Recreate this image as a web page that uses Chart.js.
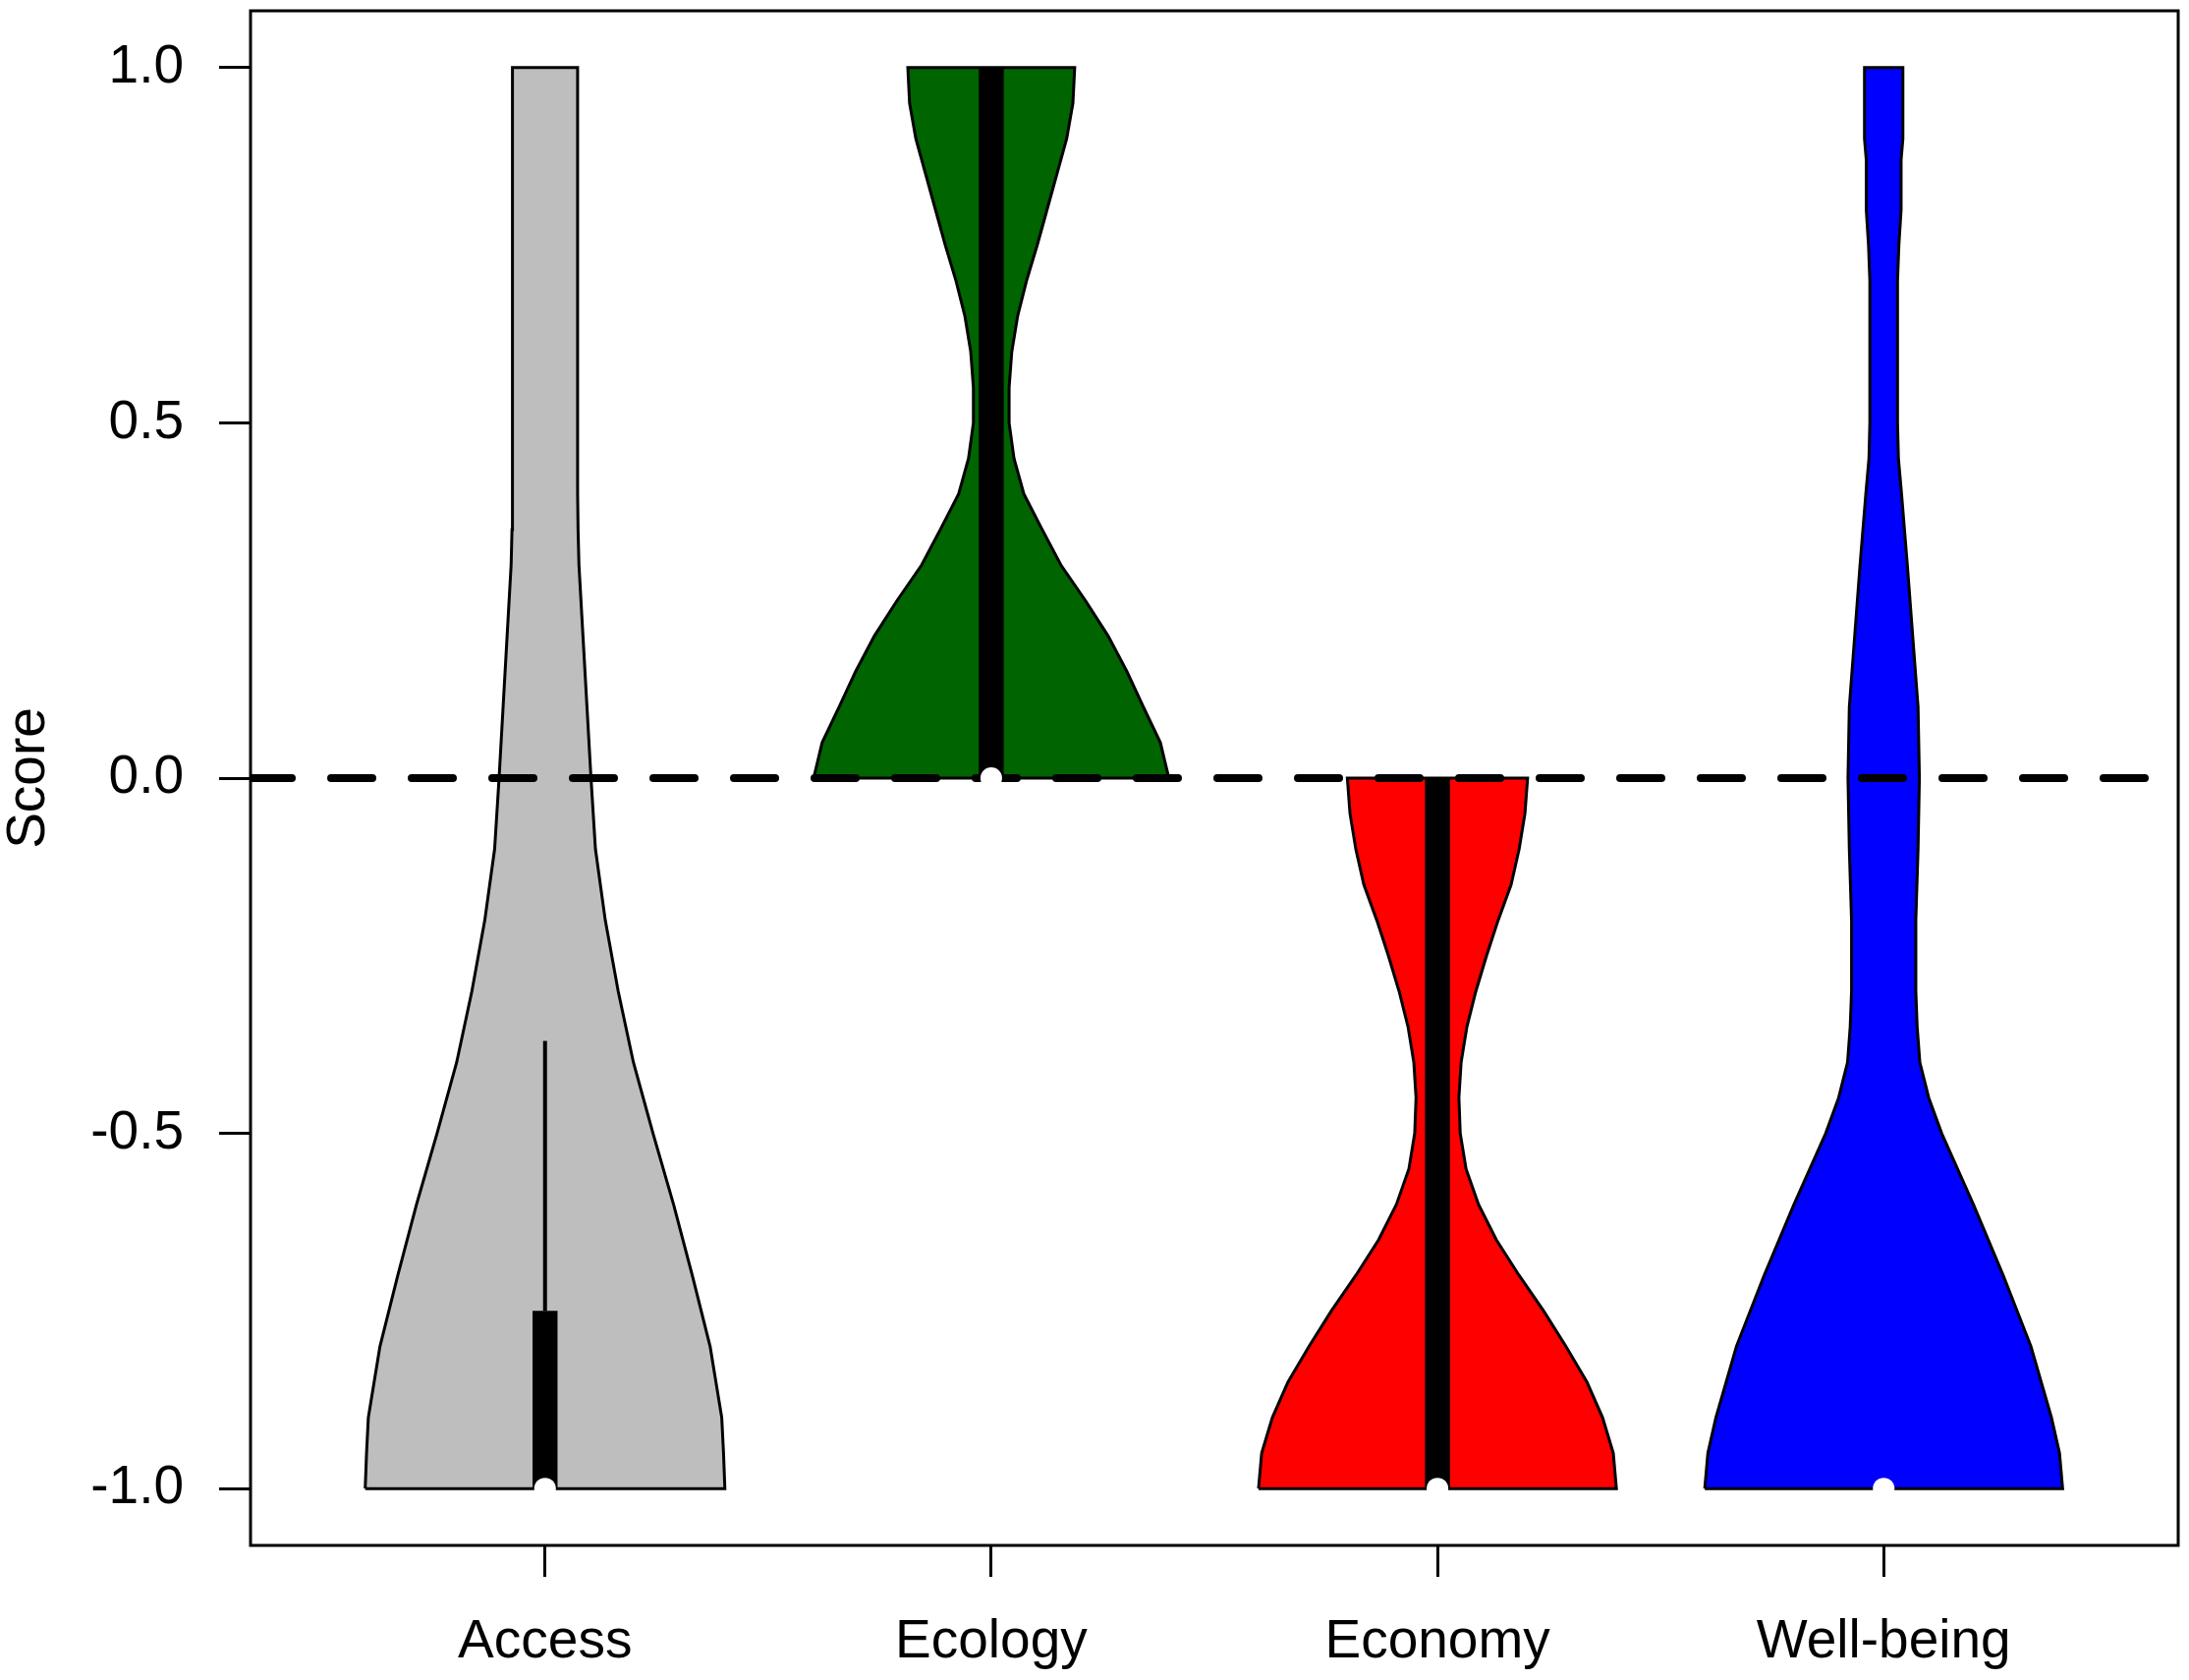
<!DOCTYPE html>
<html><head><meta charset="utf-8">
<script src="https://cdn.jsdelivr.net/npm/chart.js@4.4.1/dist/chart.umd.min.js"></script>
<style>html,body{margin:0;padding:0;background:#fff;} canvas{display:block;}</style>
</head><body>
<canvas id="c" width="2228" height="1710"></canvas>
<script>
// ---- data ----
const categories = ['Access', 'Ecology', 'Economy', 'Well-being'];
const yTicks = [-1, -0.5, 0, 0.5, 1];
const yTickLabels = ['-1.0', '-0.5', '0.0', '0.5', '1.0'];
const fillColors = ['#BEBEBE', '#006400', '#FF0000', '#0000FF'];

// violin density profiles: score levels and half-widths (in x-axis units)
const accessY = [-1, -0.95, -0.9, -0.8, -0.7, -0.6, -0.5, -0.4, -0.3, -0.2, -0.1, 0, 0.1, 0.2, 0.3, 0.35, 0.4, 1];
const accessW = [0.403, 0.400, 0.396, 0.370, 0.330, 0.288, 0.242, 0.198, 0.164, 0.135, 0.113, 0.103, 0.094, 0.085, 0.076, 0.074, 0.073, 0.073];

const ecologyY = [0, 0.05, 0.1, 0.15, 0.2, 0.25, 0.3, 0.35, 0.4, 0.45, 0.5, 0.55, 0.6, 0.65, 0.7, 0.75, 0.8, 0.85, 0.9, 0.95, 1];
const ecologyW = [0.398, 0.379, 0.341, 0.304, 0.262, 0.211, 0.156, 0.114, 0.073, 0.051, 0.040, 0.040, 0.046, 0.059, 0.079, 0.103, 0.125, 0.147, 0.169, 0.183, 0.187];

const economyY = [-1, -0.95, -0.9, -0.85, -0.8, -0.75, -0.7, -0.65, -0.6, -0.55, -0.5, -0.45, -0.4, -0.35, -0.3, -0.25, -0.2, -0.15, -0.1, -0.05, 0];
const economyW = [0.401, 0.394, 0.370, 0.335, 0.288, 0.238, 0.183, 0.132, 0.092, 0.064, 0.051, 0.048, 0.053, 0.066, 0.086, 0.110, 0.136, 0.165, 0.183, 0.196, 0.202];

const wellbeingY = [-1, -0.95, -0.9, -0.8, -0.7, -0.6, -0.5, -0.45, -0.4, -0.35, -0.3, -0.2, -0.1, 0, 0.1, 0.2, 0.3, 0.4, 0.45, 0.5, 0.7, 0.75, 0.8, 0.87, 0.9, 1];
const wellbeingW = [0.401, 0.394, 0.376, 0.330, 0.268, 0.201, 0.130, 0.101, 0.081, 0.075, 0.072, 0.072, 0.077, 0.080, 0.077, 0.065, 0.053, 0.040, 0.033, 0.031, 0.031, 0.034, 0.039, 0.039, 0.043, 0.043];

// box-plot summaries
const q1 = [-1, 0, -1, -1];
const q3 = [-0.75, 1, 0, -1];
const whiskerHigh = [-0.37, 1, 0, -1];
const medians = [-1, 0, -1, -1];
const referenceLine = 0;

// ---- build datasets ----
const profiles = [
  { y: accessY, w: accessW },
  { y: ecologyY, w: ecologyW },
  { y: economyY, w: economyW },
  { y: wellbeingY, w: wellbeingW }
];
const X_MIN = 0.34, X_MAX = 4.66, Y_MIN = -1.08, Y_MAX = 1.08;
const BOX_HALF = 0.028;

function violinPoints(i) {
  const c = i + 1, p = profiles[i], pts = [];
  for (let k = 0; k < p.y.length; k++) pts.push({ x: c - p.w[k], y: p.y[k] });
  for (let k = p.y.length - 1; k >= 0; k--) pts.push({ x: c + p.w[k], y: p.y[k] });
  pts.push({ x: pts[0].x, y: pts[0].y });
  return pts;
}

const datasets = [];
categories.forEach((cat, i) => {
  datasets.push({
    label: cat, data: violinPoints(i), showLine: true, fill: 'shape',
    backgroundColor: fillColors[i], borderColor: '#000', borderWidth: 3,
    pointRadius: 0, tension: 0, order: 5
  });
  const c = i + 1;
  if (q3[i] > q1[i]) {
    datasets.push({
      label: cat + ' box',
      data: [{ x: c - BOX_HALF, y: q1[i] }, { x: c + BOX_HALF, y: q1[i] }, { x: c + BOX_HALF, y: q3[i] }, { x: c - BOX_HALF, y: q3[i] }, { x: c - BOX_HALF, y: q1[i] }],
      showLine: true, fill: 'shape', backgroundColor: '#000', borderWidth: 0, borderColor: 'rgba(0,0,0,0)',
      pointRadius: 0, tension: 0, order: 3
    });
  }
  if (whiskerHigh[i] > q3[i]) {
    datasets.push({
      label: cat + ' whisker', data: [{ x: c, y: q3[i] }, { x: c, y: whiskerHigh[i] }],
      showLine: true, fill: false, borderColor: '#000', borderWidth: 4, pointRadius: 0, order: 3
    });
  }
});
datasets.push({
  label: 'zero', data: [{ x: X_MIN, y: referenceLine }, { x: X_MAX, y: referenceLine }],
  showLine: true, fill: false, borderColor: '#000', borderWidth: 8, borderDash: [42, 40],
  borderCapStyle: 'round', pointRadius: 0, order: 1
});
datasets.push({
  label: 'median', data: medians.map((m, i) => ({ x: i + 1, y: m })),
  showLine: false, pointRadius: 11, pointBackgroundColor: '#fff', pointBorderWidth: 0,
  pointBorderColor: '#fff', order: 0
});

const FONT = 'Liberation Sans, Arial, sans-serif';

const boxPlugin = {
  id: 'box',
  afterDatasetsDraw(chart) {
    const { ctx, chartArea: a } = chart;
    ctx.save();
    ctx.strokeStyle = '#000';
    ctx.lineWidth = 3;
    ctx.strokeRect(a.left, a.top, a.right - a.left, a.bottom - a.top);
    ctx.restore();
  }
};

new Chart(document.getElementById('c'), {
  type: 'scatter',
  data: { datasets },
  plugins: [boxPlugin],
  options: {
    responsive: false, animation: false, devicePixelRatio: 1,
    layout: { padding: { top: 5, right: 10, bottom: 0, left: 0 } },
    plugins: { legend: { display: false }, tooltip: { enabled: false } },
    scales: {
      x: {
        type: 'linear', min: X_MIN, max: X_MAX,
        afterBuildTicks: s => { s.ticks = categories.map((_, i) => ({ value: i + 1 })); },
        afterFit: s => { s.height = 137; s.paddingLeft = 0; s.paddingRight = 0; },
        grid: { drawOnChartArea: false, drawTicks: true, tickLength: 32, tickWidth: 3, tickColor: '#000' },
        border: { display: false },
        ticks: {
          autoSkip: false, maxRotation: 0, padding: 34, color: '#000',
          font: { family: FONT, size: 55 },
          callback: (v, idx) => categories[idx]
        }
      },
      y: {
        type: 'linear', min: Y_MIN, max: Y_MAX,
        afterBuildTicks: s => { s.ticks = yTicks.map(v => ({ value: v })); },
        afterFit: s => { s.width = 255; s.paddingTop = 0; s.paddingBottom = 0; },
        grid: { drawOnChartArea: false, drawTicks: true, tickLength: 32, tickWidth: 3, tickColor: '#000' },
        border: { display: false },
        ticks: {
          autoSkip: false, padding: 36, color: '#000',
          font: { family: FONT, size: 55 },
          callback: (v, idx) => yTickLabels[idx]
        },
        title: {
          display: true, text: 'Score', color: '#000',
          font: { family: FONT, size: 55, lineHeight: 1.1 }, padding: 0
        }
      }
    }
  }
});
</script>
</body></html>
